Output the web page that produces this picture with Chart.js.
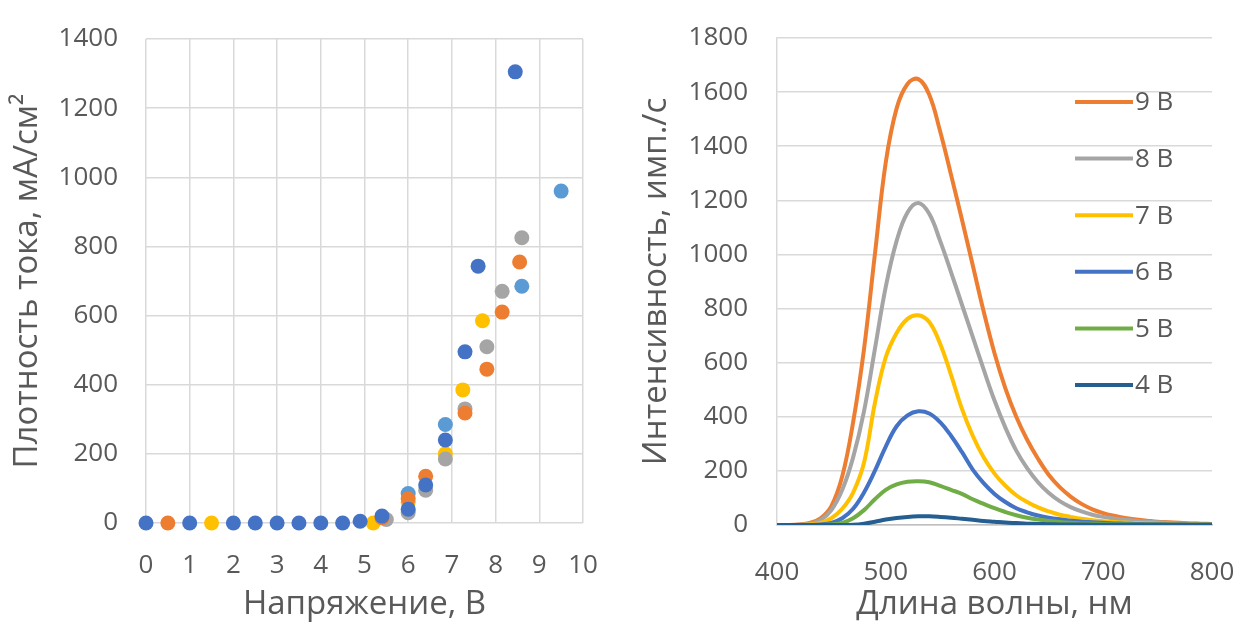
<!DOCTYPE html>
<html lang="ru">
<head>
<meta charset="utf-8" />
<title>ВАХ и спектры</title>
<script src="https://cdn.jsdelivr.net/npm/chart.js@4.4.1/dist/chart.umd.min.js"></script>
<style>
    html, body { margin: 0; padding: 0; background: #fff; }
    .wrap { position: relative; width: 1253px; height: 629px; }
    .box { position: absolute; top: 0; height: 629px; }
    #left { left: 0; width: 620px; }
    #right { left: 620px; width: 633px; }
</style>
</head>
<body>
<div class="wrap">
    <div class="box" id="left"><canvas id="ivChart" width="620" height="629"></canvas></div>
    <div class="box" id="right"><canvas id="specChart" width="633" height="629"></canvas></div>
</div>
<script>
// ---- left chart: current density vs voltage ----
const blueV    = [0, 1, 2, 2.5, 3, 3.5, 4, 4.5, 4.9, 5.4, 6.0, 6.4, 6.85, 7.3, 7.6, 8.45];
const blueJ    = [0, 0, 0, 0, 0, 0, 0, 0, 5, 20, 40, 110, 240, 495, 743, 1305];
const orangeV  = [0.5, 5.4, 6.0, 6.4, 7.3, 7.8, 8.15, 8.55];
const orangeJ  = [0, 15, 70, 135, 318, 445, 610, 755];
const grayV    = [5.5, 6.0, 6.4, 6.85, 7.3, 7.8, 8.15, 8.6];
const grayJ    = [10, 30, 95, 185, 330, 510, 670, 825];
const yellowV  = [1.5, 5.2, 6.0, 6.85, 7.25, 7.7];
const yellowJ  = [0, 0, 60, 200, 385, 585];
const ltblueV  = [6.0, 6.85, 8.6, 9.5];
const ltblueJ  = [85, 285, 685, 960];

const ivTicksX = [0, 1, 2, 3, 4, 5, 6, 7, 8, 9, 10];
const ivTicksY = [0, 200, 400, 600, 800, 1000, 1200, 1400];

// ---- right chart: EL spectra ----
const wavelengths = [400, 410, 420, 430, 440, 450, 460, 470, 480, 490,
                     500, 510, 520, 530, 540, 550, 560, 570, 580, 590,
                     600, 610, 620, 630, 640, 650, 660, 670, 680, 690,
                     700, 710, 720, 730, 740, 750, 760, 770, 780, 790, 800];
const spec9 = [0, 0, 2, 8, 25, 70, 180, 380, 650, 1000,
               1340, 1540, 1630, 1648, 1590, 1455, 1295, 1130, 960, 790,
               635, 505, 400, 315, 245, 185, 140, 105, 78, 58,
               44, 34, 26, 20, 16, 12, 10, 8, 6, 5, 4];
const spec8 = [0, 0, 1, 5, 18, 55, 130, 250, 420, 650,
               880, 1050, 1155, 1190, 1150, 1050, 935, 815, 695, 575,
               460, 360, 275, 210, 158, 118, 88, 66, 50, 38,
               30, 24, 19, 15, 12, 10, 8, 6, 5, 4, 3];
const spec7 = [0, 0, 0, 2, 8, 25, 60, 120, 230, 450,
               620, 710, 762, 775, 750, 670, 555, 430, 330, 250,
               190, 145, 110, 85, 65, 50, 38, 30, 23, 18,
               14, 11, 9, 7, 6, 5, 4, 3, 3, 2, 2];
const spec6 = [0, 0, 0, 0, 2, 8, 25, 60, 120, 200,
               290, 365, 405, 420, 412, 380, 330, 270, 205, 155,
               115, 85, 62, 47, 35, 27, 21, 16, 12, 10,
               8, 6, 5, 4, 3, 3, 2, 2, 1, 1, 1];
const spec5 = [0, 0, 0, 0, 0, 2, 8, 25, 55, 95,
               130, 150, 160, 162, 158, 145, 130, 115, 95, 78,
               62, 48, 36, 27, 20, 15, 11, 8, 6, 5,
               4, 3, 3, 2, 2, 2, 1, 1, 1, 1, 1];
const spec4 = [0, 0, 0, 0, 0, 0, 0, 1, 5, 12,
               20, 26, 30, 32, 32, 30, 27, 23, 19, 15,
               12, 9, 7, 5, 4, 3, 2, 2, 2, 1,
               1, 1, 1, 1, 1, 1, 1, 1, 1, 1, 1];
const specLabels = ['9 В', '8 В', '7 В', '6 В', '5 В', '4 В'];
const specTicksX = [400, 500, 600, 700, 800];
const specTicksY = [0, 200, 400, 600, 800, 1000, 1200, 1400, 1600, 1800];

const FONT = '"Open Sans", "DejaVu Sans", sans-serif';
const TXT = '#595959';
const GRID = '#d9d9d9';
const TICK_SIZE = 26;
const TITLE_SIZE = 33;

function pts(xs, ys) {
    return xs.map((x, i) => ({ x: x, y: ys[i] }));
}

function fixedTicks(list) {
    return function (scale) {
        scale.ticks = list.map(v => ({ value: v }));
    };
}

// fixed axis box; stop chart.js from reserving room for edge labels
function fitX(h) {
    return function (s) {
        s.height = h;
        s.paddingLeft = 0;
        s.paddingRight = 0;
    };
}

function fitY(w) {
    return function (s) {
        s.width = w;
        s.paddingTop = 0;
        s.paddingBottom = 0;
    };
}

const plain = v => String(v);

// left: scatter
new Chart(document.getElementById('ivChart'), {
    type: 'scatter',
    data: {
        datasets: [
            { label: 'blue', data: pts(blueV, blueJ), backgroundColor: '#4472c4', order: 0 },
            { label: 'orange', data: pts(orangeV, orangeJ), backgroundColor: '#ed7d31', order: 1 },
            { label: 'gray', data: pts(grayV, grayJ), backgroundColor: '#a5a5a5', order: 2 },
            { label: 'yellow', data: pts(yellowV, yellowJ), backgroundColor: '#ffc000', order: 3 },
            { label: 'lightblue', data: pts(ltblueV, ltblueJ), backgroundColor: '#5b9bd5', order: 4 }
        ].map(d => Object.assign(d, { clip: false }))
    },
    options: {
        responsive: false,
        animation: false,
        layout: { padding: { top: 39, right: 37, left: 0, bottom: 0 } },
        elements: { point: { radius: 7.5, borderWidth: 0 } },
        plugins: { legend: { display: false }, tooltip: { enabled: false } },
        scales: {
            x: {
                type: 'linear', min: 0, max: 10,
                afterBuildTicks: fixedTicks(ivTicksX),
                afterFit: fitX(106),
                grid: { color: GRID, lineWidth: 1.5, drawTicks: false },
                border: { display: false },
                ticks: { color: TXT, font: { family: FONT, size: TICK_SIZE }, padding: 27,
                         maxRotation: 0, callback: plain },
                title: { display: true, text: 'Напряжение, В', color: TXT,
                         font: { family: FONT, size: TITLE_SIZE }, padding: { top: 0, bottom: 5 } }
            },
            y: {
                min: 0, max: 1400,
                afterBuildTicks: fixedTicks(ivTicksY),
                afterFit: fitY(146),
                grid: { color: GRID, lineWidth: 1.5, drawTicks: false },
                border: { display: false },
                ticks: { color: TXT, font: { family: FONT, size: TICK_SIZE }, padding: 28, callback: plain },
                title: { display: true, text: 'Плотность тока, мА/см²', color: TXT,
                         font: { family: FONT, size: TITLE_SIZE }, padding: { top: 8, bottom: 0 } }
            }
        }
    }
});

// right: spectra with an in-plot legend
const specColors = ['#ed7d31', '#a5a5a5', '#ffc000', '#4472c4', '#70ad47', '#255e91'];
const specSeries = [spec9, spec8, spec7, spec6, spec5, spec4];

const insideLegend = {
    id: 'insideLegend',
    afterDraw(chart) {
        const ctx = chart.ctx;
        const a = chart.chartArea;
        ctx.save();
        ctx.font = TICK_SIZE + 'px ' + FONT;
        ctx.textBaseline = 'middle';
        chart.data.datasets.forEach((ds, i) => {
            const y = a.top + 64 + i * 56.6;
            const x0 = a.right - 137;
            ctx.strokeStyle = ds.borderColor;
            ctx.lineWidth = 4;
            ctx.beginPath();
            ctx.moveTo(x0, y);
            ctx.lineTo(x0 + 58, y);
            ctx.stroke();
            ctx.fillStyle = TXT;
            ctx.fillText(ds.label, x0 + 60, y + 1);
        });
        ctx.restore();
    }
};

new Chart(document.getElementById('specChart'), {
    type: 'line',
    data: {
        datasets: specSeries.map((s, i) => ({
            label: specLabels[i],
            data: pts(wavelengths, s),
            borderColor: specColors[i],
            backgroundColor: specColors[i],
            borderWidth: 4,
            pointRadius: 0,
            tension: 0.4,
            order: specSeries.length - i
        }))
    },
    plugins: [insideLegend],
    options: {
        responsive: false,
        animation: false,
        layout: { padding: { top: 38, right: 41, left: 0, bottom: 0 } },
        plugins: { legend: { display: false }, tooltip: { enabled: false } },
        scales: {
            x: {
                type: 'linear', min: 400, max: 800,
                afterBuildTicks: fixedTicks(specTicksX),
                afterFit: fitX(104),
                grid: { display: false, drawTicks: false },
                border: { display: true, color: '#bfbfbf', width: 1.5 },
                ticks: { color: TXT, font: { family: FONT, size: TICK_SIZE }, padding: 32,
                         maxRotation: 0, callback: plain },
                title: { display: true, text: 'Длина волны, нм', color: TXT,
                         font: { family: FONT, size: TITLE_SIZE }, padding: { top: 0, bottom: 5 } }
            },
            y: {
                min: 0, max: 1800,
                afterBuildTicks: fixedTicks(specTicksY),
                afterFit: fitY(157),
                grid: { color: GRID, lineWidth: 1.5, drawTicks: false },
                border: { display: true, color: GRID, width: 1.5 },
                ticks: { color: TXT, font: { family: FONT, size: TICK_SIZE }, padding: 29, callback: plain },
                title: { display: true, text: 'Интенсивность, имп./с', color: TXT,
                         font: { family: FONT, size: TITLE_SIZE }, padding: { top: 17, bottom: 0 } }
            }
        }
    }
});
</script>
</body>
</html>
